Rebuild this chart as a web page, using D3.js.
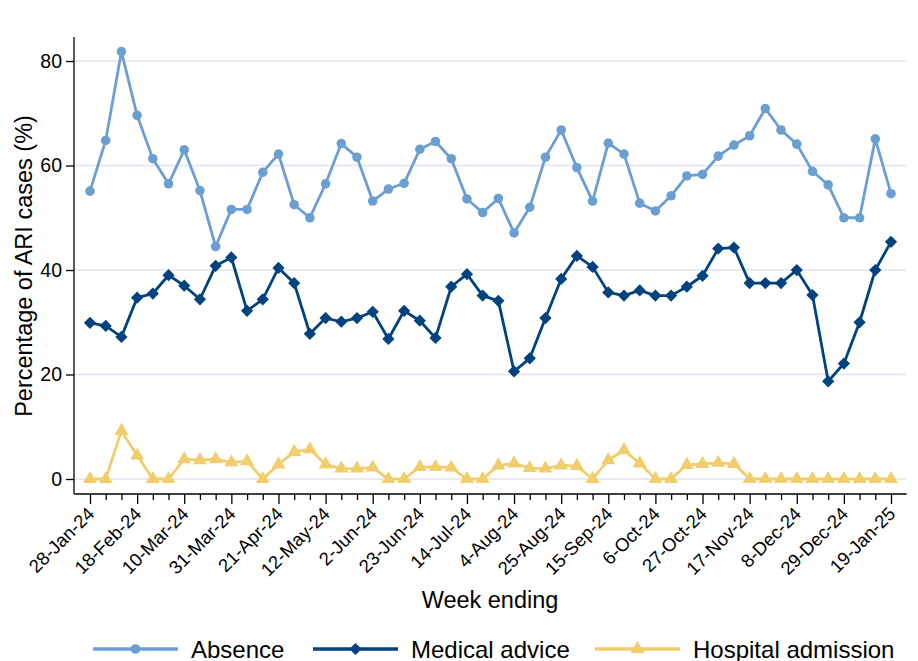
<!DOCTYPE html>
<html><head><meta charset="utf-8">
<script src="https://cdn.jsdelivr.net/npm/d3@7"></script>
<style>body{margin:0;background:#fff}svg{display:block}text{font-family:"Liberation Sans",Arial,sans-serif}</style>
</head><body><svg id="c" width="918" height="661"></svg>
<script>
const weeks = ["28-Jan-24","4-Feb-24","11-Feb-24","18-Feb-24","25-Feb-24","3-Mar-24","10-Mar-24","17-Mar-24","24-Mar-24","31-Mar-24","7-Apr-24","14-Apr-24","21-Apr-24","28-Apr-24","5-May-24","12-May-24","19-May-24","26-May-24","2-Jun-24","9-Jun-24","16-Jun-24","23-Jun-24","30-Jun-24","7-Jul-24","14-Jul-24","21-Jul-24","28-Jul-24","4-Aug-24","11-Aug-24","18-Aug-24","25-Aug-24","1-Sep-24","8-Sep-24","15-Sep-24","22-Sep-24","29-Sep-24","6-Oct-24","13-Oct-24","20-Oct-24","27-Oct-24","3-Nov-24","10-Nov-24","17-Nov-24","24-Nov-24","1-Dec-24","8-Dec-24","15-Dec-24","22-Dec-24","29-Dec-24","5-Jan-25","12-Jan-25","19-Jan-25"];
const absence = [55.1,64.8,81.8,69.6,61.3,56.5,63.0,55.2,44.5,51.6,51.6,58.7,62.2,52.5,50.0,56.5,64.2,61.6,53.2,55.5,56.6,63.1,64.6,61.3,53.6,51.0,53.7,47.1,52.0,61.6,66.8,59.6,53.2,64.3,62.2,52.8,51.3,54.2,58.0,58.3,61.8,63.9,65.7,70.9,66.8,64.1,58.9,56.3,50.0,50.0,65.1,54.6];
const medical = [29.9,29.3,27.2,34.7,35.5,39.0,37.0,34.4,40.8,42.4,32.2,34.4,40.4,37.5,27.8,30.8,30.1,30.8,32.0,26.8,32.2,30.3,27.0,36.8,39.2,35.1,34.1,20.6,23.1,30.8,38.3,42.7,40.6,35.7,35.1,36.1,35.1,35.1,36.8,38.9,44.1,44.3,37.5,37.5,37.5,40.0,35.2,18.7,22.1,30.0,40.0,45.4];
const hospital = [0,0,9.2,4.5,0,0,3.8,3.6,3.8,3.2,3.4,0,2.8,5.2,5.7,2.8,2.0,2.0,2.2,0,0,2.3,2.3,2.2,0,0,2.6,3.0,2.1,2.0,2.6,2.5,0,3.6,5.5,3.0,0,0,2.7,2.9,3.1,2.9,0,0,0,0,0,0,0,0,0,0];
const yTicks = [0,20,40,60,80];
const seriesNames = ["Absence","Medical advice","Hospital admission"];
const colors = ["#6b9fd2","#00437f","#f1cd6c"];

const diamond = { draw(ctx, size){ const r = Math.sqrt(size/2); ctx.moveTo(0,-r); ctx.lineTo(r,0); ctx.lineTo(0,r); ctx.lineTo(-r,0); ctx.closePath(); } };
const symbols = [d3.symbolCircle, diamond, d3.symbolTriangle];
const symSizes = [72, 75, 85];

const svg = d3.select("#c");
const x = d3.scaleLinear().domain([-1, weeks.length]).range([74.3, 906.7]);
const y = d3.scaleLinear().domain([-2.87, 84.6]).range([494, 37]);

// gridlines
svg.append("g").selectAll("line").data(yTicks).join("line")
  .attr("x1", 74).attr("x2", 906).attr("y1", d=>y(d)).attr("y2", d=>y(d))
  .attr("stroke","#e1e4f1").attr("stroke-width",1.5);

// y axis
const ya = svg.append("g").attr("transform","translate(74,0)")
  .call(d3.axisLeft(y).tickValues(yTicks).tickSize(8).tickPadding(4));
ya.select(".domain").attr("d", `M0,${y.range()[1]}V${y.range()[0]}`).attr("stroke","#000").attr("stroke-width",1.3);
ya.selectAll(".tick line").attr("stroke","#000").attr("stroke-width",1.3);
ya.selectAll(".tick text").attr("font-size",19.5).attr("fill","#000").attr("font-family","Liberation Sans, Arial, sans-serif");

// x axis
const xa = svg.append("g").attr("transform","translate(0,494)")
  .call(d3.axisBottom(x).tickValues(d3.range(weeks.length)).tickSize(6).tickFormat(i => i%3===0 ? weeks[i] : ""));
xa.select(".domain").attr("d", `M${x.range()[0]},0H${x.range()[1]}`).attr("stroke","#000").attr("stroke-width",1.3);
xa.selectAll(".tick line").attr("stroke","#000").attr("stroke-width",1.3).attr("y2", (d)=> d%3===0 ? 10 : 6);
xa.selectAll(".tick text").attr("font-size",18.5).attr("fill","#000")
  .attr("font-family","Liberation Sans, Arial, sans-serif")
  .attr("text-anchor","end").attr("dy",null).attr("y",0)
  .attr("transform","translate(5,21) rotate(-45)");

// titles
svg.append("text").attr("transform","translate(32,266) rotate(-90)").attr("text-anchor","middle")
  .attr("font-size",23.5).attr("fill","#000").text("Percentage of ARI cases (%)");
svg.append("text").attr("x",490).attr("y",608).attr("text-anchor","middle")
  .attr("font-size",23.5).attr("fill","#000").text("Week ending");

// series
const allSeries = [absence, medical, hospital];
const line = d3.line().x((d,i)=>x(i)).y(d=>y(d));
allSeries.forEach((s, k) => {
  const g = svg.append("g");
  g.append("path").datum(s).attr("d", line).attr("fill","none")
    .attr("stroke", colors[k]).attr("stroke-width", 2.8).attr("stroke-linejoin","round");
  g.selectAll("path.m").data(s).join("path").attr("class","m")
    .attr("transform", (d,i)=>`translate(${x(i)},${y(d)})`)
    .attr("d", d3.symbol().type(symbols[k]).size(symSizes[k]))
    .attr("fill", colors[k]);
});

// legend
const legX = [93, 313, 595];
const lg = svg.append("g");
seriesNames.forEach((n,k)=>{
  const gy = 649;
  lg.append("line").attr("x1",legX[k]).attr("x2",legX[k]+85).attr("y1",gy).attr("y2",gy)
    .attr("stroke",colors[k]).attr("stroke-width",3.5);
  lg.append("path").attr("transform",`translate(${legX[k]+42.5},${gy})`)
    .attr("d", d3.symbol().type(symbols[k]).size(symSizes[k])).attr("fill",colors[k]);
  lg.append("text").attr("x",legX[k]+98).attr("y",gy+8.5).attr("font-size",24).attr("fill","#000").text(n);
});
</script></body></html>
